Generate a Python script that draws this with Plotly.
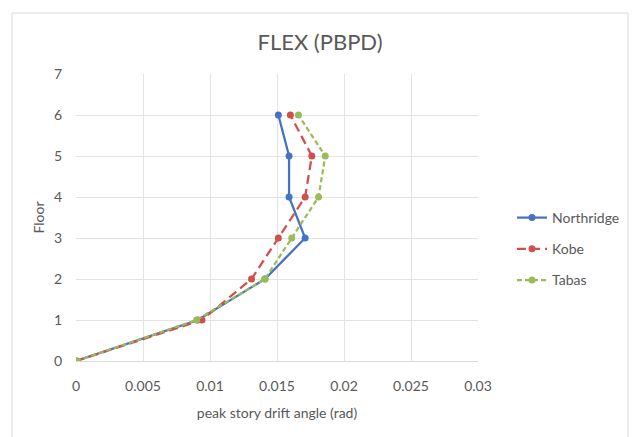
import plotly.graph_objects as go

floors = [0, 1, 2, 3, 4, 5, 6]
northridge = [0, 0.0091, 0.0141, 0.0171, 0.0159, 0.0159, 0.0151]
kobe = [0, 0.0094, 0.0131, 0.0151, 0.0171, 0.0176, 0.0160]
tabas = [0, 0.0090, 0.0141, 0.0161, 0.0181, 0.0186, 0.0166]
x_ticks = [0, 0.005, 0.01, 0.015, 0.02, 0.025, 0.03]
x_tick_labels = ["0", "0.005", "0.01", "0.015", "0.02", "0.025", "0.03"]

FONT = "Lato, 'Open Sans', sans-serif"
GRAY = "#595959"

# page offset (browser default body margin)
OFF = 8
L, R, T, B = 76 - OFF, 640 - (478 - OFF), 74 - OFF, 437 - (361 - OFF)
PW = 640 - L - R
PH = 437 - T - B

fig = go.Figure()
fig.add_trace(go.Scatter(x=northridge, y=floors, name="Northridge", mode="lines+markers", legendgroup="a",
                         line=dict(color="#4472C4", width=2.25), marker=dict(size=7, color="#4472C4")))
fig.add_trace(go.Scatter(x=kobe, y=floors, name="Kobe", mode="lines+markers", legendgroup="b",
                         line=dict(color="#D0504D", width=2.25, dash="9px,5px"), marker=dict(size=7, color="#D0504D")))
fig.add_trace(go.Scatter(x=tabas, y=floors, name="Tabas", mode="lines+markers", legendgroup="c",
                         line=dict(color="#9BBB59", width=2.25, dash="5px,3px"), marker=dict(size=7, color="#9BBB59")))

fig.update_layout(
    width=640, height=437,
    margin=dict(l=L, r=R, t=T, b=B, autoexpand=False),
    paper_bgcolor="white", plot_bgcolor="white",
    font=dict(family=FONT, size=14, color=GRAY),
    title=dict(text="FLEX (PBPD)", x=(320 - OFF) / 640, xref="container", xanchor="center",
               y=1 - (42 - OFF) / 437, yref="container",
               yanchor="middle", font=dict(size=22, color=GRAY, family=FONT)),
    xaxis=dict(range=[0, 0.03], tickvals=x_ticks, ticktext=x_tick_labels, automargin=False,
               showgrid=True, gridcolor="#E3E3E3", zeroline=False,
               showline=True, linecolor="#D9D9D9", ticks="outside", ticklen=12, tickcolor="rgba(0,0,0,0)",
               title=dict(text="peak story drift angle (rad)", font=dict(size=14, color=GRAY), standoff=15)),
    yaxis=dict(range=[0, 7], dtick=1, showgrid=True, gridcolor="#E3E3E3", zeroline=False, automargin=False,
               showline=False, ticks="outside", ticklen=10, tickcolor="rgba(0,0,0,0)",
               title=dict(text="Floor", font=dict(size=14, color=GRAY), standoff=6)),
    legend=dict(x=(512 - OFF - L) / PW, y=(361 - 249) / PH, yanchor="middle", xanchor="left",
                font=dict(size=14, color=GRAY),
                tracegroupgap=10, bgcolor="rgba(0,0,0,0)"),
    shapes=[dict(type="rect", xref="paper", yref="paper",
                 x0=(12 - 76) / PW, x1=(628 - 76) / PW,
                 y0=(361 - 450) / PH, y1=(361 - 13) / PH,
                 line=dict(color="#D9D9D9", width=1), fillcolor="rgba(0,0,0,0)", layer="below")],
)

fig.write_html("out.html")
